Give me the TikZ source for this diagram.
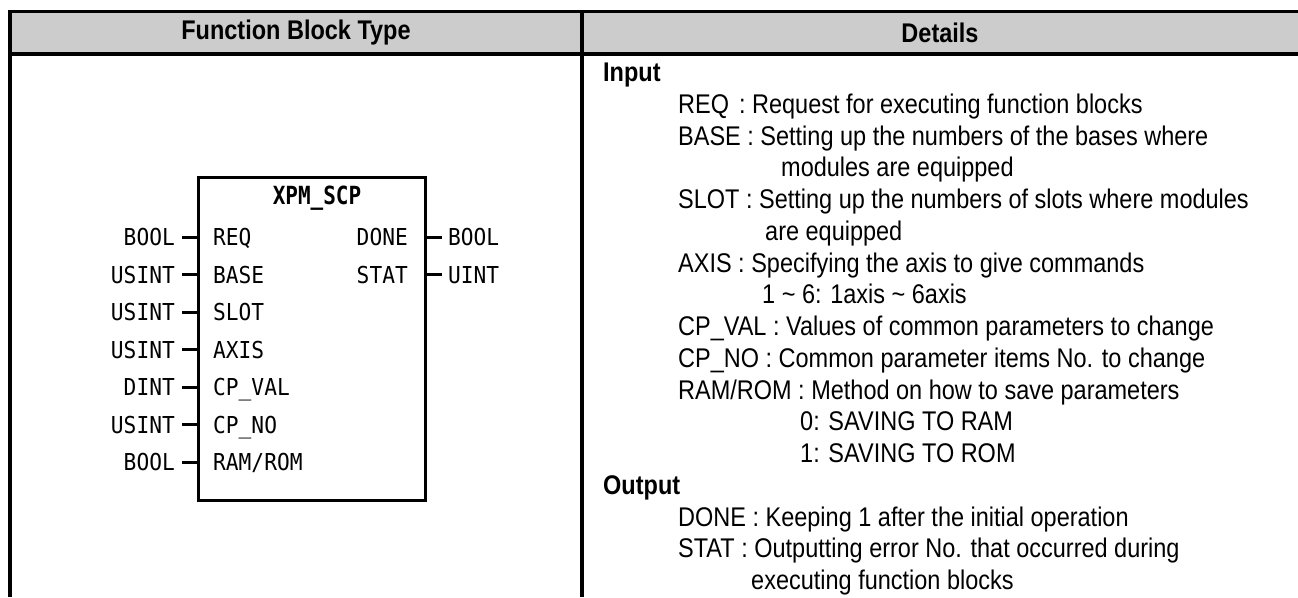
\documentclass[tikz,border=0pt]{standalone}
\usepackage{fontspec}
\setmainfont{Liberation Sans}[FakeStretch=0.87]
\newfontfamily\fbmono{DejaVu Sans Mono}[FakeStretch=0.91]
\newfontfamily\fbtitle{DejaVu Sans Mono}[FakeStretch=0.84]
\definecolor{hdr}{RGB}{204,204,204}
\begin{document}
\begin{tikzpicture}[x=1pt,y=-1pt,
  rule/.style={line width=4pt},
  hdrtext/.style={font=\fontsize{27}{31}\selectfont\bfseries, inner sep=0pt},
  body/.style={font=\fontsize{27}{31}\selectfont, anchor=base west, inner sep=0pt},
  bodyb/.style={font=\fontsize{27}{31}\selectfont\bfseries, anchor=base west, inner sep=0pt},
  fbbox/.style={draw, line width=3pt, minimum width=227pt, minimum height=323pt, inner sep=0pt},
  typel/.style={font=\fbmono\fontsize{23.3}{26}\selectfont, anchor=base east, inner sep=0pt},
  typer/.style={font=\fbmono\fontsize{23.3}{26}\selectfont, anchor=base west, inner sep=0pt},
  pinl/.style={font=\fbmono\fontsize{23.3}{26}\selectfont, anchor=base west, inner sep=0pt},
  pinr/.style={font=\fbmono\fontsize{23.3}{26}\selectfont, anchor=base east, inner sep=0pt},
  wire/.style={line width=3pt},
  fbname/.style={font=\fbtitle\bfseries\fontsize{25}{28}\selectfont, inner sep=0pt}
]
\useasboundingbox (0,0) rectangle (1298,597);
% table frame
\fill[hdr] (10,11.5) rectangle (1298,54);
\draw[line width=3.5pt] (8,11.5) -- (1298,11.5);
\draw[rule] (8,54) -- (1298,54);
\draw[rule] (10,9.75) -- (10,597);
\draw[rule] (582,9.75) -- (582,597);
\node[hdrtext] (h1) at (296,33) {Function Block Type};
\node[hdrtext] (h2) at (940,33) {Details};

% function block
\node[fbbox] (fb) at (311.5,338.5) {};
\node[fbname] (title) at (317,198) {XPM\_SCP};

\node[typel] (t1) at (175,245.5) {BOOL};
\node[pinl] (p1) at (213,245.5) {REQ};
\coordinate (w1) at (182,237);
\draw[wire] (w1) -- (w1 -| fb.west);

\node[typel] (t2) at (175,283) {USINT};
\node[pinl] (p2) at (213,283) {BASE};
\coordinate (w2) at (182,274.5);
\draw[wire] (w2) -- (w2 -| fb.west);

\node[typel] (t3) at (175,320.5) {USINT};
\node[pinl] (p3) at (213,320.5) {SLOT};
\coordinate (w3) at (182,312);
\draw[wire] (w3) -- (w3 -| fb.west);

\node[typel] (t4) at (175,358) {USINT};
\node[pinl] (p4) at (213,358) {AXIS};
\coordinate (w4) at (182,349.5);
\draw[wire] (w4) -- (w4 -| fb.west);

\node[typel] (t5) at (175,395.5) {DINT};
\node[pinl] (p5) at (213,395.5) {CP\_VAL};
\coordinate (w5) at (182,387);
\draw[wire] (w5) -- (w5 -| fb.west);

\node[typel] (t6) at (175,433) {USINT};
\node[pinl] (p6) at (213,433) {CP\_NO};
\coordinate (w6) at (182,424.5);
\draw[wire] (w6) -- (w6 -| fb.west);

\node[typel] (t7) at (175,470.5) {BOOL};
\node[pinl] (p7) at (213,470.5) {RAM/ROM};
\coordinate (w7) at (182,462);
\draw[wire] (w7) -- (w7 -| fb.west);

\node[pinr] (q1) at (408,245.5) {DONE};
\node[typer] (u1) at (448,245.5) {BOOL};
\coordinate (v1) at (442,237);
\draw[wire] (v1) -- (v1 -| fb.east);

\node[pinr] (q2) at (408,283) {STAT};
\node[typer] (u2) at (448,283) {UINT};
\coordinate (v2) at (442,274.5);
\draw[wire] (v2) -- (v2 -| fb.east);

% details text
\node[bodyb] (l1) at (603,81.5) {Input};
\node[body] (l2) at (678,113.25) {REQ\hspace{10pt}: Request for executing function blocks};
\node[body] (l3) at (678,145) {BASE : Setting up the numbers of the bases where};
\node[body] (l4) at (781,176.75) {modules are equipped};
\node[body] (l5) at (678,208.5) {SLOT : Setting up the numbers of slots where modules};
\node[body] (l6) at (765,240.25) {are equipped};
\node[body] (l7) at (678,272) {AXIS : Specifying the axis to give commands};
\node[body] (l8) at (762,303.75) {1 \textasciitilde{} 6: 1axis \textasciitilde{} 6axis};
\node[body] (l9) at (678,335.5) {CP\_VAL : Values of common parameters to change};
\node[body] (l10) at (678,367.25) {CP\_NO : Common parameter items No. to change};
\node[body] (l11) at (678,399) {RAM/ROM : Method on how to save parameters};
\node[body] (l12) at (800,430.75) {0: SAVING TO RAM};
\node[body] (l13) at (800,462.5) {1: SAVING TO ROM};
\node[bodyb] (l14) at (603,494.25) {Output};
\node[body] (l15) at (678,526) {DONE : Keeping 1 after the initial operation};
\node[body] (l16) at (678,557.75) {STAT : Outputting error No. that occurred during};
\node[body] (l17) at (751,589.5) {executing function blocks};
\end{tikzpicture}
\end{document}
